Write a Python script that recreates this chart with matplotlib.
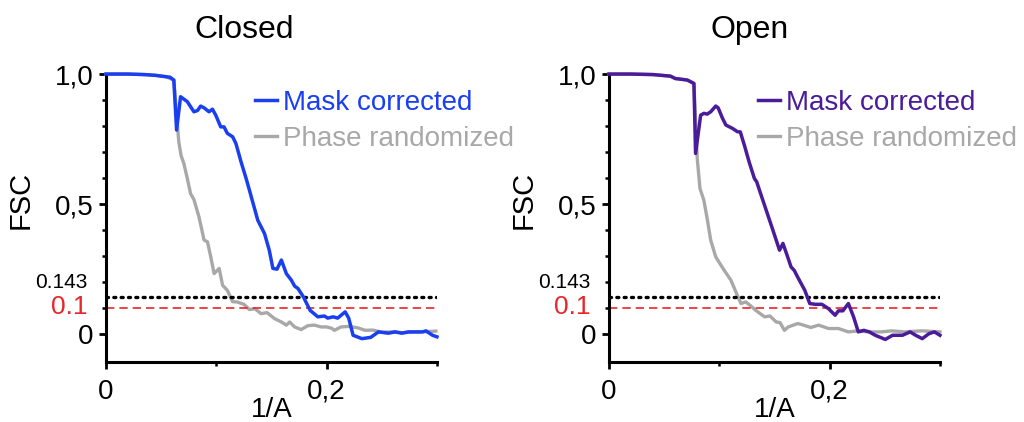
import matplotlib.pyplot as plt
import matplotlib.transforms as mtransforms
from matplotlib.ticker import FixedLocator

plt.rcParams['font.family'] = ['Liberation Sans', 'DejaVu Sans']

# Closed
closed_mask_x = [0.0, 0.02, 0.035, 0.045, 0.054, 0.058, 0.0615, 0.064, 0.0676, 0.0737, 0.0797, 0.083,
                 0.0858, 0.089, 0.0934, 0.0965, 0.0995, 0.104, 0.107, 0.110, 0.1148, 0.1178, 0.1224,
                 0.127, 0.13, 0.1376, 0.1437, 0.148, 0.1513, 0.155, 0.159, 0.1635, 0.168, 0.171, 0.174,
                 0.179, 0.185, 0.192, 0.198, 0.201, 0.206, 0.210, 0.2168, 0.22, 0.224, 0.232, 0.240,
                 0.247, 0.256, 0.262, 0.268, 0.274, 0.287, 0.29, 0.296, 0.3]
closed_mask_y = [1.0, 1.0, 0.998, 0.995, 0.99, 0.988, 0.977, 0.785, 0.913, 0.894, 0.855, 0.86,
                 0.877, 0.87, 0.855, 0.865, 0.842, 0.797, 0.797, 0.772, 0.759, 0.733, 0.663,
                 0.599, 0.554, 0.438, 0.387, 0.323, 0.253, 0.25, 0.285, 0.233, 0.208, 0.185, 0.176,
                 0.143, 0.092, 0.067, 0.070, 0.062, 0.067, 0.062, 0.086, 0.062, -0.004, -0.017, -0.012,
                 0.009, 0.004, 0.009, 0.004, 0.009, 0.009, 0.013, -0.004, -0.01]
closed_phase_x = [0.0, 0.02, 0.035, 0.045, 0.054, 0.0615, 0.0645, 0.066, 0.068, 0.0706, 0.0737, 0.0767,
                  0.0797, 0.0843, 0.0889, 0.092, 0.095, 0.098, 0.1026, 0.1057, 0.110, 0.1148, 0.119,
                  0.125, 0.13, 0.135, 0.1406, 0.146, 0.1528, 0.159, 0.1635, 0.1665, 0.171, 0.177,
                  0.183, 0.189, 0.195, 0.2, 0.2046, 0.207, 0.213, 0.22, 0.228, 0.235, 0.242, 0.25,
                  0.26, 0.27, 0.28, 0.29, 0.299]
closed_phase_y = [1.0, 1.0, 0.998, 0.995, 0.99, 0.977, 0.817, 0.74, 0.688, 0.656, 0.599, 0.54,
                  0.518, 0.451, 0.362, 0.355, 0.297, 0.233, 0.253, 0.188, 0.169, 0.125, 0.124,
                  0.115, 0.095, 0.098, 0.079, 0.083, 0.06, 0.047, 0.035, 0.047, 0.028, 0.018,
                  0.033, 0.035, 0.028, 0.028, 0.023, 0.015, 0.028, 0.03, 0.025, 0.015, 0.016, 0.008,
                  0.009, 0.006, 0.008, 0.01, 0.012]

# Open
open_mask_x = [0.0, 0.02, 0.04, 0.0557, 0.06, 0.071, 0.077, 0.0785, 0.0831, 0.0861, 0.089, 0.0922,
               0.0968, 0.099, 0.1029, 0.106, 0.112, 0.1166, 0.119, 0.1227, 0.127, 0.1318, 0.134,
               0.1364, 0.1425, 0.1486, 0.1546, 0.1577, 0.162, 0.165, 0.168, 0.171, 0.1775, 0.182,
               0.187, 0.193, 0.1988, 0.205, 0.208, 0.212, 0.217, 0.2217, 0.226, 0.231, 0.236,
               0.2414, 0.2505, 0.257, 0.266, 0.273, 0.278, 0.284, 0.29, 0.295, 0.3]
open_mask_y = [1.0, 1.0, 0.998, 0.992, 0.983, 0.977, 0.964, 0.695, 0.842, 0.849, 0.846, 0.855,
               0.877, 0.87, 0.83, 0.804, 0.791, 0.778, 0.778, 0.727, 0.663, 0.599, 0.585,
               0.554, 0.477, 0.40, 0.323, 0.349, 0.297, 0.259, 0.245, 0.22, 0.169, 0.118,
               0.115, 0.115, 0.099, 0.073, 0.09, 0.09, 0.118, 0.067, 0.009, 0.015, 0.009,
               -0.004, -0.02, -0.004, -0.004, 0.009, -0.004, -0.017, 0.002, 0.009, -0.004]
open_phase_x = [0.0, 0.02, 0.04, 0.0557, 0.06, 0.071, 0.077, 0.080, 0.0825, 0.086, 0.0892, 0.0922,
                0.0968, 0.1044, 0.1105, 0.115, 0.1196, 0.124, 0.1288, 0.133, 0.141, 0.146, 0.1516,
                0.155, 0.159, 0.1625, 0.171, 0.174, 0.183, 0.19, 0.199, 0.208, 0.217, 0.226, 0.235,
                0.247, 0.256, 0.268, 0.284, 0.3]
open_phase_y = [1.0, 1.0, 0.998, 0.992, 0.983, 0.977, 0.964, 0.676, 0.56, 0.515, 0.44, 0.362,
                0.297, 0.246, 0.208, 0.163, 0.118, 0.124, 0.108, 0.092, 0.067, 0.07, 0.047,
                0.045, 0.015, 0.028, 0.041, 0.038, 0.026, 0.035, 0.022, 0.022, 0.009, 0.013, 0.009,
                0.009, 0.013, 0.009, 0.013, 0.009]

thresholds = [0.143, 0.1]
titles = ['Closed', 'Open']
mask_colors = ['#1a3ff0', '#4b1c99']
gray = '#a8a8a8'
red = '#e8262a'

fig = plt.figure(figsize=(10.24, 4.22), dpi=100)
panels = [
    (0.1035, closed_mask_x, closed_mask_y, closed_phase_x, closed_phase_y),
    (0.5947, open_mask_x, open_mask_y, open_phase_x, open_phase_y),
]
title_x = [0.238, 0.732]

for i, (left, mx, my, px, py) in enumerate(panels):
    ax = fig.add_axes([left, 0.142, 0.3232, 0.6825])
    ax.plot(mx, my, color=mask_colors[i], lw=2.5, label='Mask corrected', clip_on=False, zorder=3)
    ax.plot(px, py, color=gray, lw=2.4, label='Phase randomized', clip_on=False, zorder=2)
    ax.axhline(thresholds[0], color='black', lw=2.4, ls=(0, (0.6, 1.6)), dash_capstyle='round')
    ax.axhline(thresholds[1], color=red, lw=1.2, ls=(0, (5, 3)))

    ax.set_xlim(0, 0.3)
    ax.set_ylim(-0.107, 1.0)
    for s in ['top', 'right']:
        ax.spines[s].set_visible(False)
    for s in ['left', 'bottom']:
        ax.spines[s].set_linewidth(2.2)

    ax.xaxis.set_major_locator(FixedLocator([0, 0.2]))
    ax.xaxis.set_minor_locator(FixedLocator([0.1, 0.3]))
    ax.set_xticklabels(['0', '0,2'])
    ax.yaxis.set_major_locator(FixedLocator([0, 0.5, 1.0]))
    ax.yaxis.set_minor_locator(FixedLocator([0.1, 0.2, 0.3, 0.4, 0.6, 0.7, 0.8, 0.9]))
    ax.set_yticklabels(['0', '0,5', '1,0'])
    ax.tick_params(which='major', length=5, width=2, labelsize=20)
    ax.tick_params(axis='x', which='major', pad=7)
    ax.tick_params(axis='y', which='major', pad=4)
    ax.tick_params(which='minor', length=3, width=1.8)

    ax.set_xlabel('1/A', fontsize=20)
    ax.xaxis.set_label_coords(0.5, -0.12)
    ax.set_ylabel('FSC', fontsize=21)
    ax.yaxis.set_label_coords(-0.215, 0.5625)

    trans = mtransforms.blended_transform_factory(ax.transAxes, ax.transData)
    ax.text(-0.055, 0.2, '0.143', transform=trans, ha='right', va='center', fontsize=15)
    ax.text(-0.055, 0.103, '0.1', transform=trans, ha='right', va='center', fontsize=19,
            color=red)

    ax.legend(loc='upper left', bbox_to_anchor=(0.45, 0.944), frameon=False, fontsize=20,
              handlelength=0.8, handletextpad=0.22, labelspacing=0.36, borderpad=0,
              borderaxespad=0, labelcolor='linecolor')

    fig.text(title_x[i], 0.929, titles[i], ha='center', va='center', fontsize=23)

fig.savefig('out.png', dpi=100)
